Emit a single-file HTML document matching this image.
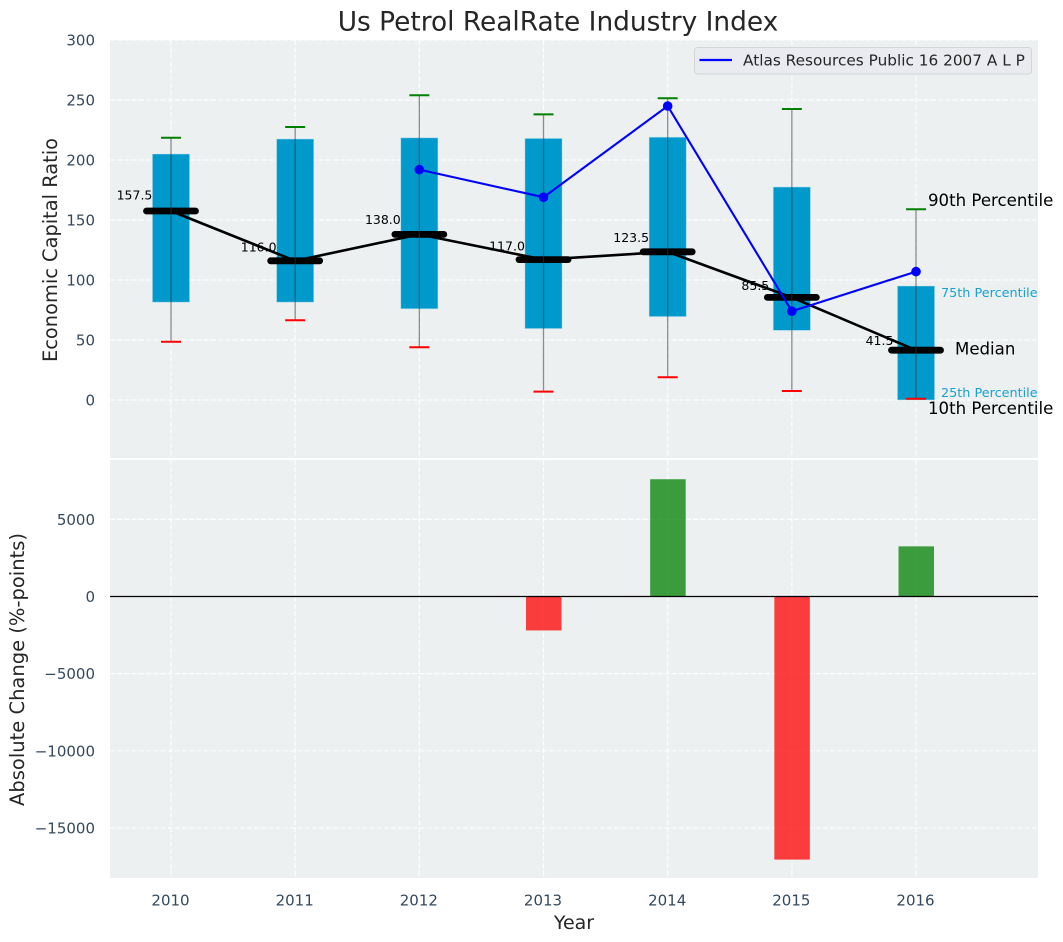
<!DOCTYPE html>
<html>
<head>
<meta charset="utf-8">
<title>Us Petrol RealRate Industry Index</title>
<style>
html,body{margin:0;padding:0;background:#fff;width:1063px;height:942px;overflow:hidden}
svg{display:block}
text{font-family:"DejaVu Sans","Liberation Sans",sans-serif}
</style>
</head>
<body>
<svg id="chart" width="1063" height="942" viewBox="0 0 1063 942" xmlns="http://www.w3.org/2000/svg">
  <text x="558" y="30.500" text-anchor="middle" font-size="26.400" fill="#262626">Us Petrol RealRate Industry Index</text>
  <rect x="110" y="40" width="928" height="418" fill="#ecf0f1"></rect>
  <rect x="110" y="460" width="928" height="418" fill="#ecf0f1"></rect>
  <g id="grid"></g>
  <g id="top-marks"></g>
  <g id="bottom-marks"></g>
  <g id="ticks"></g>
  <text x="57" y="250" transform="rotate(-90 57 250)" text-anchor="middle" font-size="19.400" fill="#262626">Economic Capital Ratio</text>
  <text x="24" y="669.500" transform="rotate(-90 24 669.500)" text-anchor="middle" font-size="19.500" fill="#262626">Absolute Change (%-points)</text>
  <text x="574" y="929" text-anchor="middle" font-size="19" fill="#262626">Year</text>
  <g>
    <rect x="694.500" y="47.500" width="337" height="26.500" rx="3" fill="#e9ebf1" stroke="#d3d5d9"></rect>
    <line x1="699.500" y1="60" x2="732" y2="60" stroke="#0000ff" stroke-width="2.200"></line>
    <text x="743" y="65.500" font-size="15.300" fill="#262626">Atlas Resources Public 16 2007 A L P</text>
  </g>
  <g>
    <text x="928" y="206" font-size="16.600" fill="#000">90th Percentile</text>
    <text x="941" y="297" font-size="12.800" fill="#0099cc" fill-opacity="0.9">75th Percentile</text>
    <text x="955" y="354.500" font-size="16.600" fill="#000">Median</text>
    <text x="941" y="397" font-size="12.800" fill="#0099cc" fill-opacity="0.9">25th Percentile</text>
    <text x="928" y="414" font-size="16.600" fill="#000">10th Percentile</text>
  </g>
</svg>
<script>
const years = [2010, 2011, 2012, 2013, 2014, 2015, 2016];
const p90 = [218.5, 227.5, 254, 238, 251.5, 242.5, 159];
const q3 = [205, 217.5, 218.5, 218, 219, 177.5, 95];
const medians = [157.5, 116, 138, 117, 123.5, 85.5, 41.5];
const q1 = [81.5, 81.5, 76, 59.5, 69.5, 58, 0];
const p10 = [48.5, 66.5, 44, 7, 19, 7.5, 1];
const companyYears = [2012, 2013, 2014, 2015, 2016];
const companyValues = [192, 169, 245, 74, 107];
const changeYears = [2013, 2014, 2015, 2016];
const changeValues = [-2200, 7600, -17050, 3250];
const topTicks = [0, 50, 100, 150, 200, 250, 300];
const bottomTicks = [-15000, -10000, -5000, 0, 5000];
const tickYears = [2010, 2011, 2012, 2013, 2014, 2015, 2016];

const NS = 'http://www.w3.org/2000/svg';
const xAxis = v => 171 + (v - 2010) * 124.17;
const yTop = v => 400 - v * 1.2;
const yBottom = v => 596.5 - v * 0.01543;

function make(parent, tag, attrs, content) {
  const el = document.createElementNS(NS, tag);
  Object.keys(attrs).forEach(k => el.setAttribute(k, attrs[k]));
  if (content !== undefined) el.textContent = content;
  parent.appendChild(el);
  return el;
}
const gridG = document.getElementById('grid');
const topG = document.getElementById('top-marks');
const botG = document.getElementById('bottom-marks');
const tickG = document.getElementById('ticks');
const gridStyle = { stroke: '#ffffff', 'stroke-width': 1.2, 'stroke-dasharray': '5 2.2', 'stroke-opacity': 0.9 };

tickYears.forEach(y => {
  const a = make(gridG, 'line', Object.assign({ x1: xAxis(y), x2: xAxis(y), y1: 40, y2: 458 }, gridStyle));
  
  
  const b = make(gridG, 'line', Object.assign({ x1: xAxis(y), x2: xAxis(y), y1: 460, y2: 878 }, gridStyle));
  
  
  const t = make(tickG, 'text', { x: xAxis(y) - 0.5, y: 905.5, 'text-anchor': 'middle', 'font-size': 15, fill: '#34495e' }, String(y));
  
  
});
topTicks.forEach(v => {
  const a = make(gridG, 'line', Object.assign({ x1: 110, x2: 1038, y1: yTop(v), y2: yTop(v) }, gridStyle));
  
  
  const t = make(tickG, 'text', { x: 95, y: yTop(v) + 5.5, 'text-anchor': 'end', 'font-size': 15, fill: '#34495e' }, String(v));
  
  
});
bottomTicks.forEach(v => {
  const a = make(gridG, 'line', Object.assign({ x1: 110, x2: 1038, y1: yBottom(v), y2: yBottom(v) }, gridStyle));
  
  
  const label = v < 0 ? '\u2212' + Math.abs(v) : String(v);
  const t = make(tickG, 'text', { x: 95, y: yBottom(v) + 5.5, 'text-anchor': 'end', 'font-size': 15, fill: '#34495e' }, label);
  
  
});

years.forEach((y, i) => {
  const x = xAxis(y);
  const box = make(topG, 'rect', { x: x - 18.6, y: yTop(q3[i]), width: 37.2, height: yTop(q1[i]) - yTop(q3[i]), fill: '#0099cc', stroke: '#bfe3ef', 'stroke-opacity': 0.6, 'stroke-width': 0.8 });
  
  
  const lbl = make(topG, 'text', { x: x - 36.5, y: yTop(medians[i] * 1.045 + 6.25) + 4.5, 'text-anchor': 'middle', 'font-size': 12.5, fill: '#000' }, medians[i].toFixed(1));
  
  
});

const medianLine = make(topG, 'polyline', { points: years.map((y, i) => xAxis(y) + ',' + yTop(medians[i])).join(' '), fill: 'none', stroke: '#000', 'stroke-width': 2.6 });



years.forEach((y, i) => {
  const x = xAxis(y);
  const bar = make(topG, 'line', { x1: x - 24.5, x2: x + 24.5, y1: yTop(medians[i]), y2: yTop(medians[i]), stroke: '#000', 'stroke-width': 6.8, 'stroke-linecap': 'round' });
  
  
  const w = make(topG, 'line', { x1: x, x2: x, y1: yTop(p90[i]), y2: yTop(p10[i]), stroke: '#333', 'stroke-opacity': 0.55, 'stroke-width': 1.3 });
  
  
  const hi = make(topG, 'line', { x1: x - 10, x2: x + 10, y1: yTop(p90[i]), y2: yTop(p90[i]), stroke: '#008000', 'stroke-width': 2 });
  
  
  const lo = make(topG, 'line', { x1: x - 10, x2: x + 10, y1: yTop(p10[i]), y2: yTop(p10[i]), stroke: '#ff0000', 'stroke-width': 2 });
  
  
});

const companyLine = make(topG, 'polyline', { points: companyYears.map((y, i) => xAxis(y) + ',' + yTop(companyValues[i])).join(' '), fill: 'none', stroke: '#0000ff', 'stroke-width': 2.1 });


companyYears.forEach((y, i) => {
  const c = make(topG, 'circle', { cx: xAxis(y), cy: yTop(companyValues[i]), r: 4.8, fill: '#0000ff' });
  
  
});

changeYears.forEach((y, i) => {
  const v = changeValues[i];
  const top = Math.min(yBottom(v), yBottom(0));
  const h = Math.abs(yBottom(v) - yBottom(0));
  const r = make(botG, 'rect', { x: xAxis(y) - 17.5, y: top, width: 35.5, height: h, fill: v >= 0 ? '#008000' : '#ff0000', 'fill-opacity': 0.75 });
  
  
});
const zero = make(botG, 'line', { x1: 110, x2: 1038, y1: yBottom(0), y2: yBottom(0), stroke: '#000', 'stroke-width': 1.2 });


</script>
</body>
</html>
